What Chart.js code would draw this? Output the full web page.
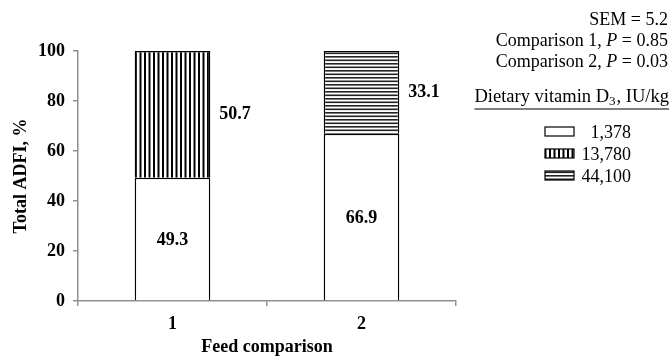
<!DOCTYPE html>
<html>
<head>
<meta charset="utf-8">
<script src="https://cdn.jsdelivr.net/npm/chart.js@4.4.1/dist/chart.umd.min.js"></script>
<style>
  html, body { margin: 0; padding: 0; background: #fff; }
  #wrap { width: 671px; height: 356px; position: relative; }
</style>
</head>
<body>
<div id="wrap"><canvas id="adfiChart"></canvas></div>
<script>
// data
const feedComparisons = ['1', '2'];
const vitaminDoses = ['1,378', '13,780', '44,100'];
const dose1378 = [49.3, 66.9];
const dose13780 = [50.7, null];
const dose44100 = [null, 33.1];
const yTicks = [0, 20, 40, 60, 80, 100];
const statLines = [
    [{ t: 'SEM = 5.2' }],
    [{ t: 'Comparison 1, ' }, { t: 'P', it: true }, { t: ' = 0.85' }],
    [{ t: 'Comparison 2, ' }, { t: 'P', it: true }, { t: ' = 0.03' }]
];

const SERIF = '"Liberation Serif", "Times New Roman", serif';
const axisGrey = '#8f8f8f';

function makeHatch(vertical) {
    const c = document.createElement('canvas');
    const p = c.getContext('2d');
    if (vertical) {
        c.width = 9; c.height = 4;
        p.fillStyle = '#fff'; p.fillRect(0, 0, 9, 4);
        p.fillStyle = '#000';
        p.fillRect(0, 0, 2, 4);
        p.fillRect(4.5, 0, 2, 4);
    } else {
        c.width = 4; c.height = 7;
        p.fillStyle = '#fff'; p.fillRect(0, 0, 4, 7);
        p.fillStyle = '#222';
        p.fillRect(0, 0, 4, 1.6);
        p.fillRect(0, 3.5, 4, 1.6);
    }
    return p.createPattern(c, 'repeat');
}

const fills = ['#ffffff', makeHatch(true), makeHatch(false)];

function drawParts(ctx, parts, rightX, y, size) {
    const fontFor = pt => (pt.it ? 'italic ' : '') + (pt.sub ? Math.round(size * 0.7) : size) + 'px ' + SERIF;
    let total = 0;
    parts.forEach(pt => { ctx.font = fontFor(pt); total += ctx.measureText(pt.t).width + (pt.gap || 0); });
    let x = rightX - total;
    parts.forEach(pt => {
        ctx.font = fontFor(pt);
        ctx.fillText(pt.t, x, y + (pt.sub ? 5 : 0));
        x += ctx.measureText(pt.t).width + (pt.gap || 0);
    });
    return rightX - total;
}

// numbers on / beside the bars
const valueLabels = {
    id: 'valueLabels',
    afterDatasetsDraw(chart) {
        const ctx = chart.ctx;
        ctx.save();
        ctx.font = 'bold 18px ' + SERIF;
        ctx.fillStyle = '#000';
        ctx.textBaseline = 'middle';
        chart.data.datasets.forEach((ds, di) => {
            chart.getDatasetMeta(di).data.forEach((bar, i) => {
                const v = ds.data[i];
                if (v == null) return;
                const midY = (bar.y + bar.base) / 2;
                if (di === 0) {
                    ctx.textAlign = 'center';
                    ctx.fillText(v.toFixed(1), bar.x, midY + 1);
                } else {
                    ctx.textAlign = 'left';
                    ctx.fillText(v.toFixed(1), bar.x + bar.width / 2 + 9, midY);
                }
            });
        });
        ctx.restore();
    }
};

// stats text and the legend on the right
const sideNotes = {
    id: 'sideNotes',
    afterDraw(chart) {
        const ctx = chart.ctx;
        ctx.save();
        ctx.fillStyle = '#000';
        ctx.textBaseline = 'middle';
        ctx.textAlign = 'left';
        statLines.forEach((line, i) => drawParts(ctx, line, 668, 20 + i * 21, 18));

        const headLeft = drawParts(ctx, [
            { t: 'Dietary vitamin D' }, { t: '3', sub: true, gap: 1 }, { t: ', IU/kg' }
        ], 669, 97, 18.5);
        ctx.strokeStyle = '#000';
        ctx.lineWidth = 1.2;
        ctx.beginPath();
        ctx.moveTo(headLeft, 109);
        ctx.lineTo(669, 109);
        ctx.stroke();

        ctx.font = '18px ' + SERIF;
        chart.data.datasets.forEach((ds, i) => {
            const y = 133 + i * 22;
            ctx.fillStyle = ds.backgroundColor;
            ctx.fillRect(545, y - 6, 29, 9);
            ctx.strokeStyle = '#000';
            ctx.lineWidth = 1.2;
            ctx.strokeRect(545, y - 6, 29, 9);
            ctx.fillStyle = '#000';
            ctx.textAlign = 'right';
            ctx.fillText(ds.label, 631, y);
        });
        ctx.restore();
    }
};

const commonBar = { borderColor: '#000', borderWidth: 1.5, barPercentage: 0.4, categoryPercentage: 1 };

new Chart(document.getElementById('adfiChart'), {
    type: 'bar',
    data: {
        labels: feedComparisons,
        datasets: [
            { label: vitaminDoses[0], data: dose1378, backgroundColor: fills[0], ...commonBar },
            { label: vitaminDoses[1], data: dose13780, backgroundColor: fills[1], ...commonBar },
            { label: vitaminDoses[2], data: dose44100, backgroundColor: fills[2], ...commonBar }
        ]
    },
    options: {
        responsive: true,
        maintainAspectRatio: false,
        animation: false,
        layout: { padding: { top: 51, right: 215, bottom: 0, left: 0 } },
        plugins: { legend: { display: false }, tooltip: { enabled: false } },
        scales: {
            x: {
                stacked: true,
                afterFit: s => { s.height = 55; },
                grid: { offset: true, drawOnChartArea: false, color: axisGrey, tickLength: 5, lineWidth: 1.5 },
                border: { color: axisGrey, width: 1.5 },
                ticks: { color: '#000', padding: 8, font: { family: SERIF, size: 18, weight: 'bold' } },
                title: {
                    display: true, text: 'Feed comparison', color: '#000',
                    padding: { top: 0, bottom: 0 },
                    font: { family: SERIF, size: 18, weight: 'bold', lineHeight: 1 }
                }
            },
            y: {
                stacked: true,
                min: 0, max: 100,
                afterFit: s => { s.width = 78; },
                afterBuildTicks: s => { s.ticks = yTicks.map(v => ({ value: v })); },
                grid: { drawOnChartArea: false, color: axisGrey, tickLength: 5, lineWidth: 1.5 },
                border: { color: axisGrey, width: 1.5 },
                ticks: { color: '#000', padding: 8, font: { family: SERIF, size: 18, weight: 'bold' } },
                title: {
                    display: true, text: 'Total ADFI, %', color: '#000',
                    padding: { top: 11, bottom: 0 },
                    font: { family: SERIF, size: 18, weight: 'bold' }
                }
            }
        }
    },
    plugins: [valueLabels, sideNotes]
});
</script>
</body>
</html>
